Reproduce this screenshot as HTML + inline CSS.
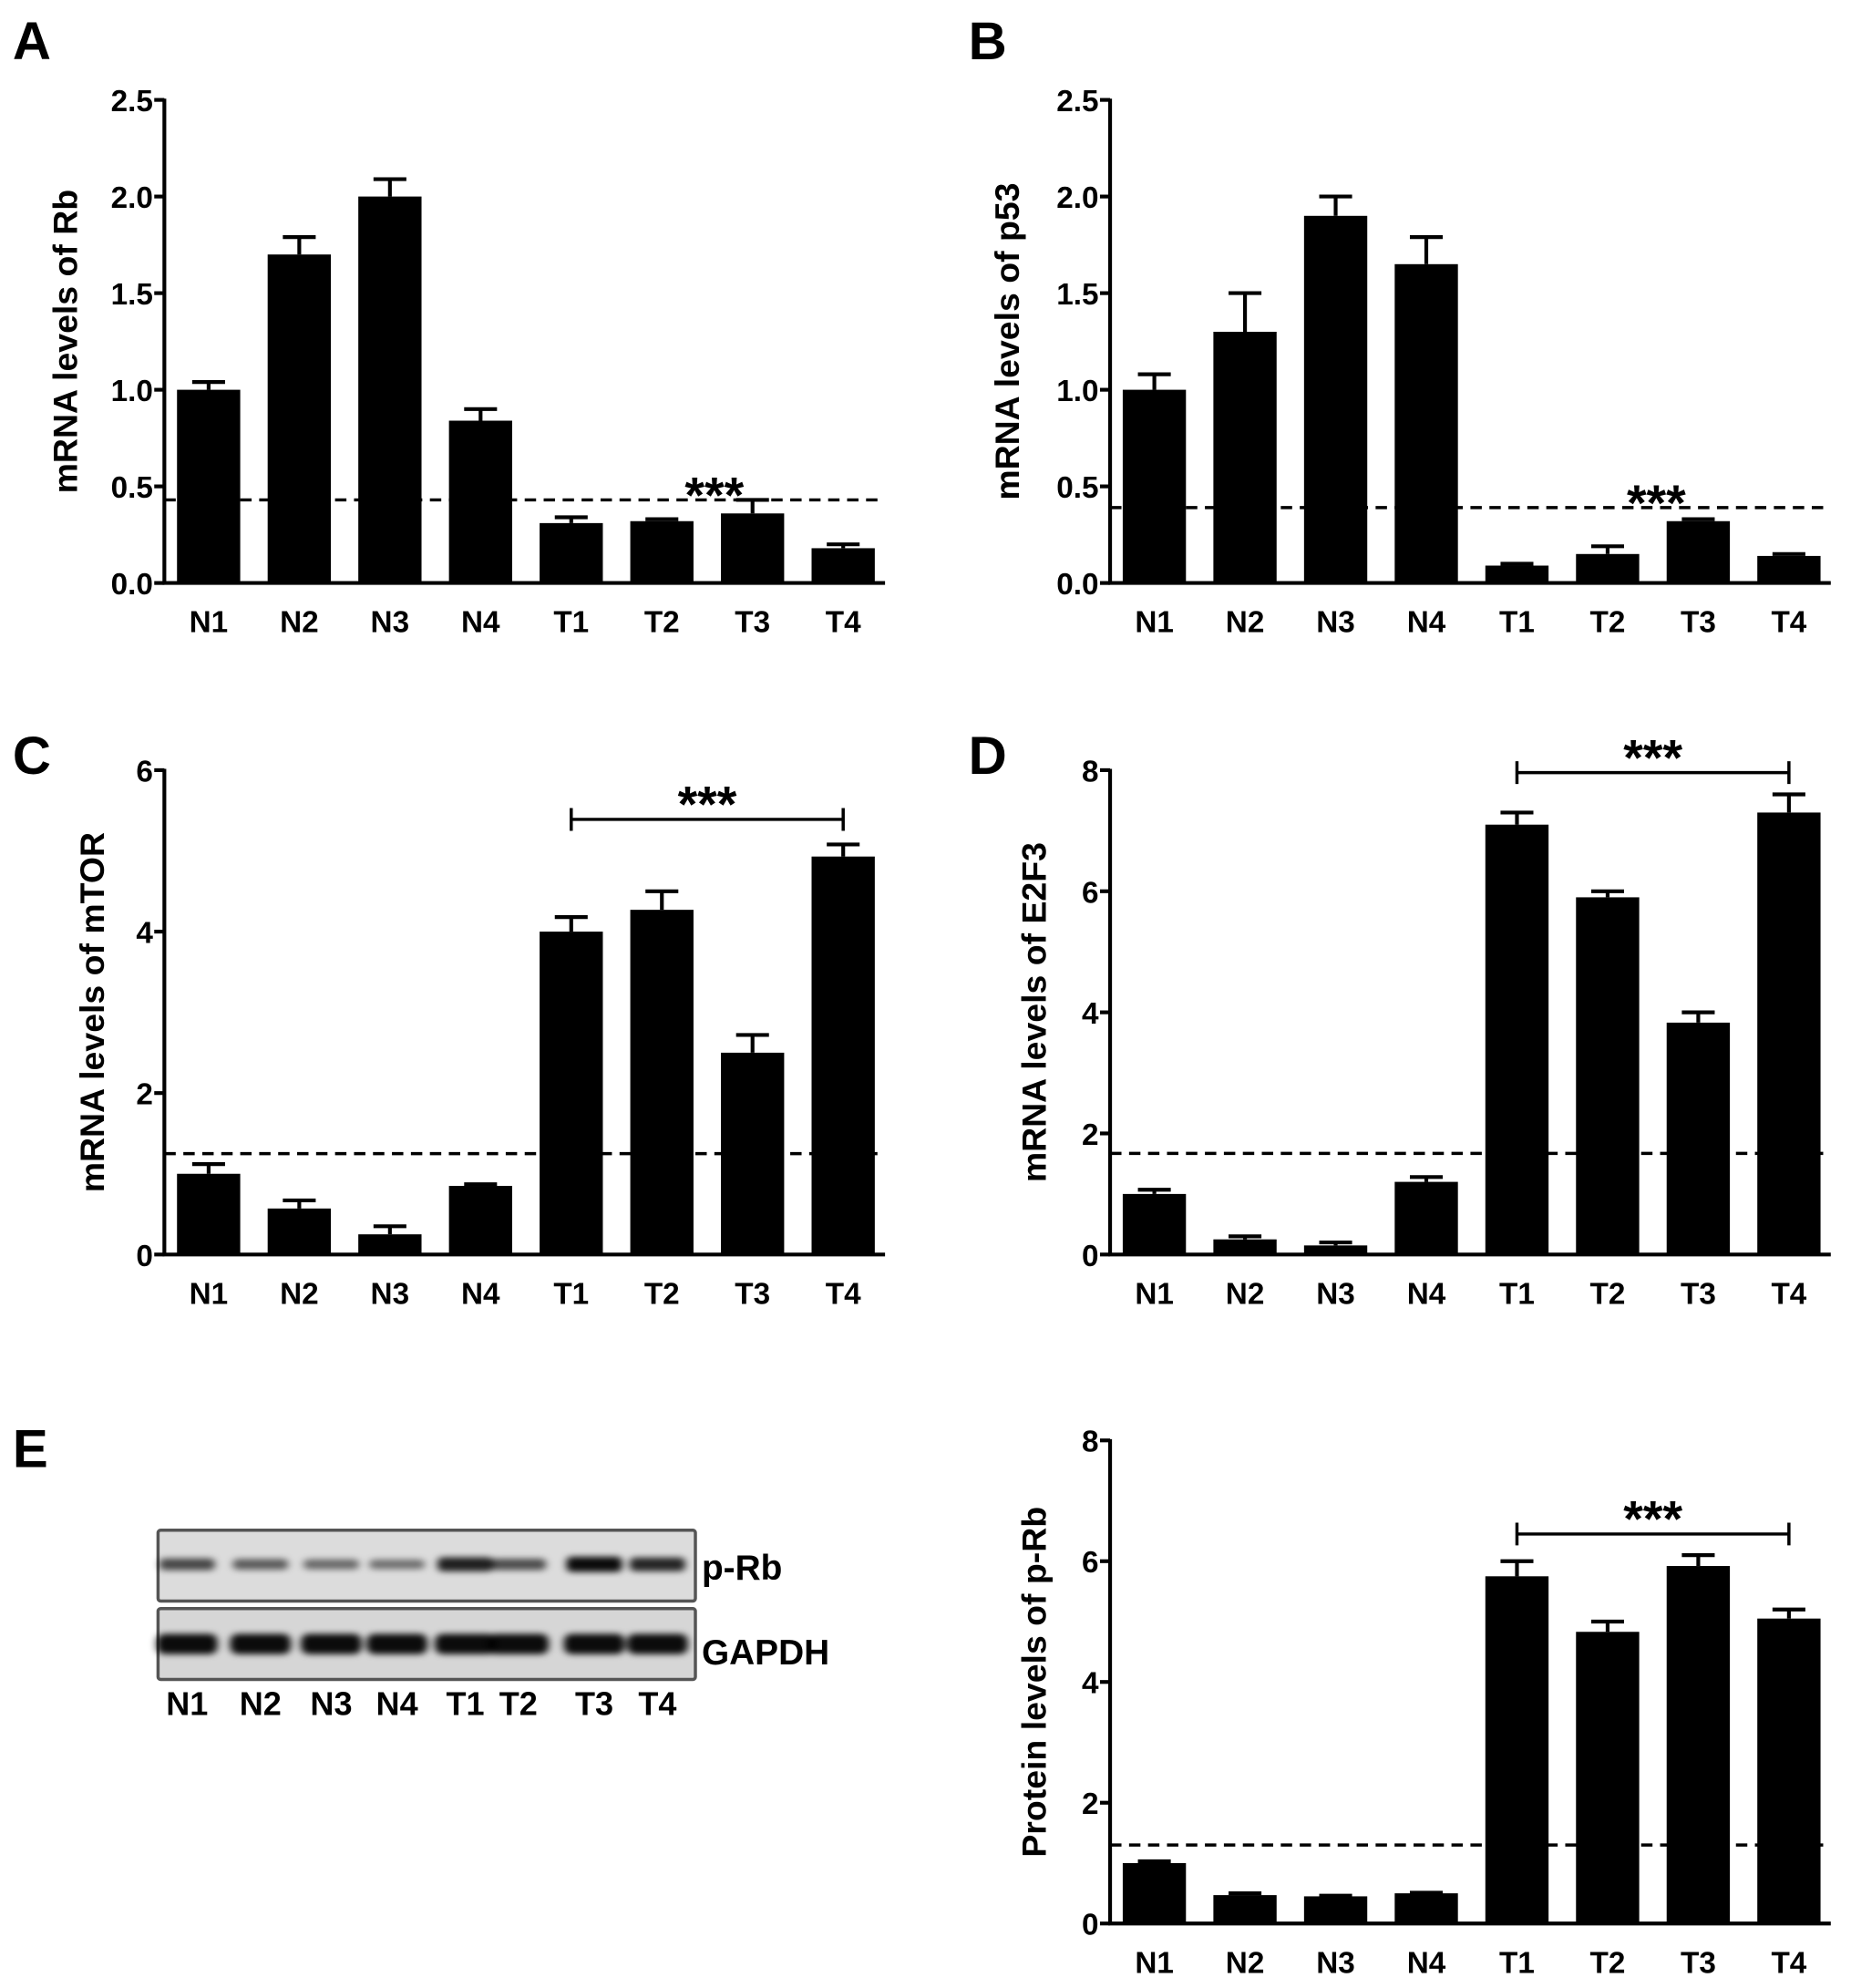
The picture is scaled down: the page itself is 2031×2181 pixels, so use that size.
<!DOCTYPE html>
<html><head><meta charset="utf-8"><style>
html,body{margin:0;padding:0;background:#fff;}
svg{display:block;font-family:"Liberation Sans",Arial,sans-serif;font-weight:bold;}
</style></head><body>
<svg id="fig" width="2031" height="2181" viewBox="0 0 1464 1572" preserveAspectRatio="none" xmlns="http://www.w3.org/2000/svg">
<g font-size="42">
<text x="10" y="47">A</text>
<text x="766" y="47">B</text>
<text x="10" y="612">C</text>
<text x="766" y="612">D</text>
<text x="10" y="1160">E</text>
</g>
<g>
<defs>
<filter id="blur" x="-20%" y="-50%" width="140%" height="200%"><feGaussianBlur stdDeviation="3 2.5"/></filter>
</defs>
<rect x="125" y="1210" width="425" height="56" fill="#dcdcdc" stroke="#555" stroke-width="2.5" rx="2"/>
<rect x="125" y="1272" width="425" height="56" fill="#d6d6d6" stroke="#555" stroke-width="2.5" rx="2"/>
<g id="bands" filter="url(#blur)"></g>
<text x="555" y="1249" font-size="28">p-Rb</text>
<text x="555" y="1316" font-size="28">GAPDH</text>
<g id="lanes" font-size="26" text-anchor="middle"></g>
</g>
</svg>
<script>
const NS='http://www.w3.org/2000/svg';
const svg=document.getElementById('fig');
const categories=['N1','N2','N3','N4','T1','T2','T3','T4'];

const rbValues=[1.0,1.7,2.0,0.84,0.31,0.32,0.36,0.18];
const rbErrors=[0.04,0.09,0.09,0.06,0.03,0.01,0.07,0.02];
const rbTicks=['0.0','0.5','1.0','1.5','2.0','2.5'];
const p53Values=[1.0,1.3,1.9,1.65,0.09,0.15,0.32,0.14];
const p53Errors=[0.08,0.2,0.1,0.14,0.01,0.04,0.01,0.01];
const p53Ticks=['0.0','0.5','1.0','1.5','2.0','2.5'];
const mtorValues=[1.0,0.57,0.25,0.85,4.0,4.27,2.5,4.93];
const mtorErrors=[0.12,0.1,0.1,0.02,0.18,0.23,0.22,0.15];
const mtorTicks=['0','2','4','6'];
const e2f3Values=[1.0,0.25,0.15,1.2,7.1,5.9,3.83,7.3];
const e2f3Errors=[0.07,0.05,0.05,0.08,0.2,0.1,0.17,0.3];
const e2f3Ticks=['0','2','4','6','8'];
const prbValues=[1.0,0.47,0.45,0.5,5.75,4.83,5.92,5.05];
const prbErrors=[0.03,0.03,0.01,0.01,0.25,0.17,0.18,0.15];
const prbTicks=['0','2','4','6','8'];
const blotPRb=[0.55,0.4,0.3,0.25,0.85,0.5,1.0,0.8];
const blotGapdh=[1,1,1,1,1,1,1,1];

function el(tag,attrs,parent){const e=document.createElementNS(NS,tag);for(const k in attrs)e.setAttribute(k,attrs[k]);(parent||svg).appendChild(e);return e;}

function panel(o){
  const g=el('g',{});
  
  
  const ticks=o.ticks.map(Number);
  const ymax=ticks[ticks.length-1];
  const y=v=>o.base-(v/ymax)*(o.base-o.top);
  const x=i=>o.ax+35+i*71.7;
  o.values.forEach((v,i)=>{
    const b=el('rect',{x:x(i)-25,y:y(v),width:50,height:o.base-y(v),fill:'#000'},g);
    
    
    const eb=el('path',{d:`M${x(i)} ${y(v)} V${y(v+o.errors[i])} M${x(i)-13} ${y(v+o.errors[i])} H${x(i)+13}`,stroke:'#000','stroke-width':3,fill:'none'},g);
    
    
    const t=el('text',{x:x(i),y:o.base+39,'font-size':24,'text-anchor':'middle'},g);
    t.textContent=categories[i];
    
    
  });
  const axes=el('path',{d:`M${o.ax} ${o.top-1} V${o.base} H${o.ax+570}`,stroke:'#000','stroke-width':3,fill:'none'},g);
  
  
  o.ticks.forEach((tl,i)=>{
    const ty=y(ticks[i]);
    const tk=el('line',{x1:o.ax-8,x2:o.ax,y1:ty,y2:ty,stroke:'#000','stroke-width':3},g);
    
    
    const t=el('text',{x:o.ax-9,y:ty+9,'font-size':24,'text-anchor':'end'},g);
    t.textContent=tl;
    
    
  });
  const d=el('line',{x1:o.ax,x2:o.ax+570,y1:y(o.dash),y2:y(o.dash),stroke:'#000','stroke-width':2.5,'stroke-dasharray':'9 6'},g);
  
  
  if(o.bracket!=null){
    const by=y(o.bracket);
    const br=el('path',{d:`M${x(4)} ${by-9} V${by+9} M${x(4)} ${by} H${x(7)} M${x(7)} ${by-9} V${by+9}`,stroke:'#000','stroke-width':2.5,fill:'none'},g);
    
    
    const s=el('text',{x:(x(4)+x(7))/2,y:by+2,'font-size':40,'text-anchor':'middle'},g);
    s.textContent='***';
    
    
  } else {
    const s=el('text',{x:o.starX,y:y(o.dash)+10,'font-size':40,'text-anchor':'middle'},g);
    s.textContent='***';
    
    
  }
  const yt=el('text',{transform:`translate(${o.titleX},${(o.top+o.base)/2}) rotate(-90)`,'font-size':27,'text-anchor':'middle','xml:space':'preserve'},g);
  yt.textContent=o.title;
  
  
}

panel({name:'chart-rb-mrna',ax:130,top:79,base:461,values:rbValues,errors:rbErrors,ticks:rbTicks,dash:0.43,starX:565,title:'mRNA  levels of Rb',titleX:61});
panel({name:'chart-p53-mrna',ax:878,top:79,base:461,values:p53Values,errors:p53Errors,ticks:p53Ticks,dash:0.39,starX:1310,title:'mRNA  levels of p53',titleX:806});
panel({name:'chart-mtor-mrna',ax:130,top:609,base:992,values:mtorValues,errors:mtorErrors,ticks:mtorTicks,dash:1.25,bracket:5.39,title:'mRNA  levels of mTOR',titleX:82});
panel({name:'chart-e2f3-mrna',ax:878,top:609,base:992,values:e2f3Values,errors:e2f3Errors,ticks:e2f3Ticks,dash:1.67,bracket:7.96,title:'mRNA  levels of  E2F3',titleX:827});
panel({name:'chart-prb-protein',ax:878,top:1139,base:1521,values:prbValues,errors:prbErrors,ticks:prbTicks,dash:1.3,bracket:6.45,title:'Protein levels of p-Rb',titleX:827});

const laneX=[148,206,262,314,368,410,470,520];
const bands=document.getElementById('bands');
const lanes=document.getElementById('lanes');
categories.forEach((c,i)=>{
  const a=blotPRb[i];
  const b1=el('rect',{x:laneX[i]-22,y:1237-3-a*3,width:44,height:6+a*6,rx:4,fill:'#000',opacity:0.35+0.6*a},bands);
  
  
  const b2=el('rect',{x:laneX[i]-24,y:1300-8*blotGapdh[i],width:48,height:16*blotGapdh[i],rx:6,fill:'#000',opacity:0.95},bands);
  
  
  const t=el('text',{x:laneX[i],y:1356},lanes);
  t.textContent=c;
  
  
});
</script>
</body></html>
